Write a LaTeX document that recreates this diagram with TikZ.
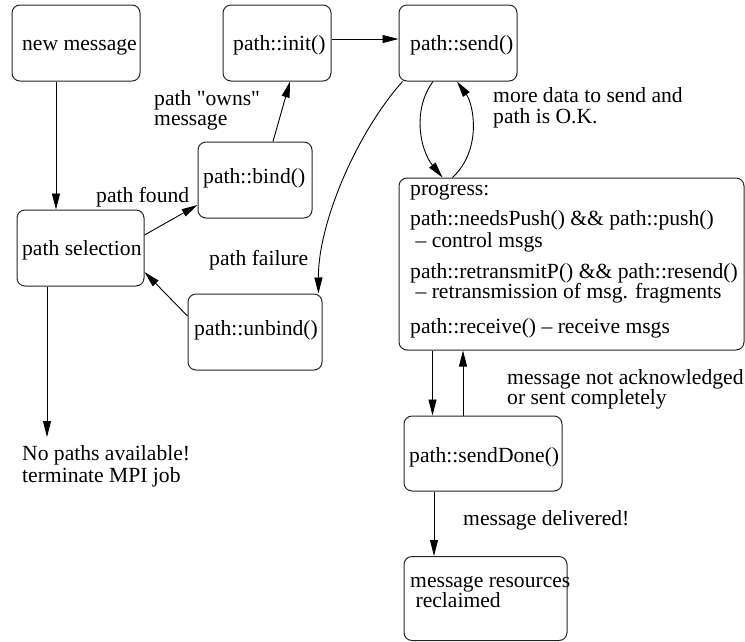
\documentclass[tikz,border=0pt]{standalone}
\usepackage{fontspec}
\setmainfont{Liberation Serif}
\newfontfamily\plainquote{Liberation Serif}[Ligatures=TeXOff]
\usetikzlibrary{arrows.meta}
\begin{document}
\begin{tikzpicture}[x=1pt,y=-1pt,
  box/.style={draw=black!85,line width=1pt,rounded corners=8pt,inner sep=0pt},
  txt/.style={inner sep=0pt,anchor=base west,font=\fontsize{21.6}{20}\selectfont},
  arr/.style={line width=0.9pt,-{Triangle[length=16pt,width=8pt]}}]
\useasboundingbox (0,0) rectangle (745,641);
% boxes
\node[box,minimum width=128pt,minimum height=76pt] (nm) at (76,43) {};
\node[box,minimum width=108pt,minimum height=76pt] (init) at (277,43) {};
\node[box,minimum width=118pt,minimum height=76pt] (send) at (458,43) {};
\node[box,minimum width=114pt,minimum height=76pt] (bind) at (255,180) {};
\node[box,minimum width=127pt,minimum height=76pt] (sel) at (80.5,248) {};
\node[box,minimum width=134pt,minimum height=76pt] (unbind) at (255,332) {};
\node[box,minimum width=345pt,minimum height=172pt] (prog) at (571.5,264) {};
\node[box,minimum width=158pt,minimum height=75pt] (sd) at (483,453.5) {};
\node[box,minimum width=163pt,minimum height=84pt] (res) at (485.5,598.5) {};
% box texts
\node[txt] (tnm) at (22,50) {new message};
\node[txt] (tinit) at (233,50) {path::init()};
\node[txt] (tsend) at (410,50) {path::send()};
\node[txt] (tbind) at (203,183) {path::bind()};
\node[txt] (tsel) at (22,255) {path selection};
\node[txt] (tunbind) at (194,335) {path::unbind()};
\node[txt] (tsd) at (409,462) {path::sendDone()};
\node[txt] (tres1) at (410,587) {message resources};
\node[txt] (tres2) at (410,607) {\ reclaimed};
\node[txt] (tp1) at (410,195) {progress:};
\node[txt] (tp2) at (410,225) {path::needsPush() \&\& path::push()};
\node[txt] (tp3) at (410,247) {\ -- control msgs};
\node[txt] (tp4) at (410,278) {path::retransmitP() \&\& path::resend()};
\node[txt] (tp5) at (410,298) {\ -- retransmission of msg. fragments};
\node[txt] (tp6) at (410,333) {path::receive() -- receive msgs};
% labels
\node[txt] (lown1) at (154,105) {\plainquote path "owns"};
\node[txt] (lown2) at (154,125) {message};
\node[txt] (lfound) at (96,202) {path found};
\node[txt] (lfail) at (209,265) {path failure};
\node[txt] (lmore1) at (493,102) {more data to send and};
\node[txt] (lmore2) at (493,123) {path is O.K.};
\node[txt] (lack1) at (507,384) {message not acknowledged};
\node[txt] (lack2) at (507,404) {or sent completely};
\node[txt] (ldel) at (463,525) {message delivered!};
\node[txt] (lnp1) at (22,460) {No paths available!};
\node[txt] (lnp2) at (22,482) {terminate MPI job};
\coordinate (npTop) at (47,437);
% connectors
\draw[arr] ([xshift=-20pt]nm.south) -- ([xshift=-20pt]nm.south |- sel.north);
\draw[arr] ([yshift=13pt]sel.east) -- ([yshift=-25pt]bind.west);
\draw[arr] ([xshift=18pt]bind.north) -- ([xshift=13pt]init.south);
\draw[arr] ([yshift=4pt]init.east) -- ([yshift=4pt]send.west);
\draw[arr] ([xshift=4pt]send.south west) .. controls (355,135) and (318,225) .. ([xshift=-4pt]unbind.north east);
\draw[arr] ([yshift=16pt]unbind.west) -- ([yshift=-24pt]sel.east);
\draw[arr] ([xshift=-25pt]send.south) .. controls (412,110) and (420,150) .. ([xshift=44pt]prog.north west);
\draw[arr] ([xshift=54pt]prog.north west) .. controls (482,150) and (474,105) .. ([xshift=-1pt]send.south);
\draw[arr] ([xshift=34pt]prog.south west) -- ([xshift=34pt]prog.south west |- sd.north);
\draw[arr] ([xshift=-20pt]sd.north) -- ([xshift=-20pt]sd.north |- prog.south);
\draw[arr] ([xshift=-49pt]sd.south) -- ([xshift=-49pt]sd.south |- res.north);
\draw[arr] ([xshift=-33.5pt]sel.south) -- (npTop);
\end{tikzpicture}
\end{document}
